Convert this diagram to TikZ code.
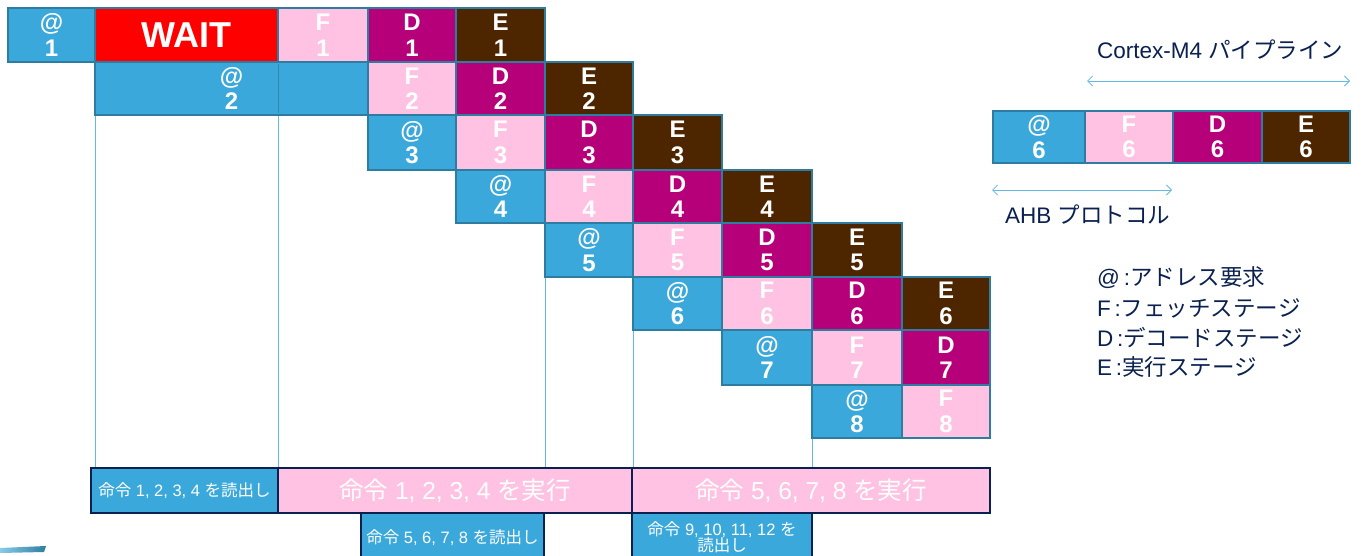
\documentclass[tikz,border=0pt]{standalone}
\usepackage{fontspec}
\setmainfont{Liberation Sans}
\newfontfamily\cjk{Noto Sans CJK JP}
\usetikzlibrary{arrows.meta}
\definecolor{cA}{RGB}{58,168,218}
\definecolor{cF}{RGB}{255,194,226}
\definecolor{cD}{RGB}{181,0,122}
\definecolor{cE}{RGB}{77,38,0}
\definecolor{cW}{RGB}{255,0,0}
\definecolor{cB}{RGB}{46,125,160}
\definecolor{navy}{RGB}{10,32,80}
\definecolor{lineblue}{RGB}{100,185,228}
\newcommand\pcell[7]{\node[#6, minimum width={#4-#2}, minimum height={#5-#3}] (#1) at ({(#2+#4)/2},{(#3+#5)/2}) {#7};}
\begin{document}
\begin{tikzpicture}[x=1pt,y=-1pt,
  pcellbase/.style={draw=cB, line width=2.8pt, text=white, font=\bfseries\fontsize{24}{25.5}\selectfont, align=center, inner sep=0pt},
  acell/.style={pcellbase, fill=cA},
  fcell/.style={pcellbase, fill=cF},
  dcell/.style={pcellbase, fill=cD},
  ecell/.style={pcellbase, fill=cE},
  wcell/.style={pcellbase, fill=cW, font=\bfseries\fontsize{36}{38}\selectfont},
  vline/.style={draw=lineblue, line width=0.8pt},
  bbox/.style={draw=navy, line width=2.8pt, text=white, inner sep=0pt, align=center},
  smalltxt/.style={font=\fontsize{16.5}{19}\selectfont},
  bigtxt/.style={font=\fontsize{24.5}{28}\selectfont},
  legend/.style={text=navy, font=\fontsize{22.5}{26}\selectfont, inner sep=0pt},
  dimarrow/.style={draw=lineblue, line width=0.8pt, {Straight Barb[length=5pt,width=10pt]}-{Straight Barb[length=5pt,width=10pt]}}
]
\useasboundingbox (0,0) rectangle (1362,555);
\clip (0,0) rectangle (1362,555);
\fill[white] (0,0) rectangle (1362,555);

% vertical guide lines
\draw[vline] (95,62) -- (95,468);
\draw[vline] (278,62) -- (278,468);
\draw[vline] (545,277) -- (545,468);
\draw[vline] (633,330) -- (633,468);
\draw[vline] (812,223) -- (812,468);

% row 1
\pcell{a1}{8}{8}{95}{62}{acell}{@\\1}
\pcell{w1}{95}{8}{278}{62}{wcell}{WAIT}
\pcell{f1}{278}{8}{368}{62}{fcell}{F\\1}
\pcell{d1}{368}{8}{456}{62}{dcell}{D\\1}
\pcell{e1}{456}{8}{545}{62}{ecell}{E\\1}
% row 2
\pcell{a2}{95}{62}{368}{115}{acell}{@\\2}
\pcell{f2}{368}{62}{456}{115}{fcell}{F\\2}
\pcell{d2}{456}{62}{545}{115}{dcell}{D\\2}
\pcell{e2}{545}{62}{633}{115}{ecell}{E\\2}
\draw[draw=cB!80!cA, line width=0.8pt] (278,64) -- (278,113);
% row 3
\pcell{a3}{368}{115}{456}{170}{acell}{@\\3}
\pcell{f3}{456}{115}{545}{170}{fcell}{F\\3}
\pcell{d3}{545}{115}{633}{170}{dcell}{D\\3}
\pcell{e3}{633}{115}{722}{170}{ecell}{E\\3}
% row 4
\pcell{a4}{456}{170}{545}{223}{acell}{@\\4}
\pcell{f4}{545}{170}{633}{223}{fcell}{F\\4}
\pcell{d4}{633}{170}{722}{223}{dcell}{D\\4}
\pcell{e4}{722}{170}{812}{223}{ecell}{E\\4}
% row 5
\pcell{a5}{545}{223}{633}{277}{acell}{@\\5}
\pcell{f5}{633}{223}{722}{277}{fcell}{F\\5}
\pcell{d5}{722}{223}{812}{277}{dcell}{D\\5}
\pcell{e5}{812}{223}{902}{277}{ecell}{E\\5}
% row 6
\pcell{a6}{633}{277}{722}{330}{acell}{@\\6}
\pcell{f6}{722}{277}{812}{330}{fcell}{F\\6}
\pcell{d6}{812}{277}{902}{330}{dcell}{D\\6}
\pcell{e6}{902}{277}{990}{330}{ecell}{E\\6}
% row 7
\pcell{a7}{722}{330}{812}{385}{acell}{@\\7}
\pcell{f7}{812}{330}{902}{385}{fcell}{F\\7}
\pcell{d7}{902}{330}{990}{385}{dcell}{D\\7}
% row 8
\pcell{a8}{812}{385}{902}{438}{acell}{@\\8}
\pcell{f8}{902}{385}{990}{438}{fcell}{F\\8}

% right pipeline
\pcell{ra}{993}{111}{1085}{163}{acell}{@\\6}
\pcell{rf}{1085}{111}{1173}{163}{fcell}{F\\6}
\pcell{rd}{1173}{111}{1262}{163}{dcell}{D\\6}
\pcell{re}{1262}{111}{1350}{163}{ecell}{E\\6}

\coordinate (cm4l) at (1087,81);
\coordinate (cm4r) at (1350,81);
\coordinate (ahbl) at (992,190);
\coordinate (ahbr) at (1172,190);
\draw[dimarrow] (cm4l) -- (cm4r);
\draw[dimarrow] (ahbl) -- (ahbr);
\node[legend, anchor=west] (cm4) at (1097,50) {Cortex-M4 {\cjk パイプライン}};
\node[legend, anchor=west] (ahb) at (1005,215) {AHB {\cjk プロトコル}};

% legend
\node[legend, anchor=west] (lg1) at (1097,278) {@\,:{\cjk アドレス要求}};
\node[legend, anchor=west] (lg2) at (1097,308) {F\,:{\cjk フェッチステージ}};
\node[legend, anchor=west] (lg3) at (1097,338) {D\,:{\cjk デコードステージ}};
\node[legend, anchor=west] (lg4) at (1097,367) {E\,:{\cjk 実行ステージ}};

% bottom boxes
\pcell{b1}{91}{468}{278}{513}{bbox, fill=cA, smalltxt}{{\cjk 命令} 1, 2, 3, 4 {\cjk を読出し}}
\pcell{b2}{278}{468}{632}{513}{bbox, fill=cF, bigtxt}{{\cjk 命令} 1, 2, 3, 4 {\cjk を実行}}
\pcell{b3}{632}{468}{990}{513}{bbox, fill=cF, bigtxt}{{\cjk 命令} 5, 6, 7, 8 {\cjk を実行}}
\pcell{b4}{361}{513}{544}{562}{bbox, fill=cA, smalltxt}{{\cjk 命令} 5, 6, 7, 8 {\cjk を読出し}}
\pcell{b5}{632}{513}{812}{562}{bbox, fill=cA, smalltxt}{{\cjk 命令} 9, 10, 11, 12 {\cjk を}\\[-3pt]{\cjk 読出し}}

% corner fragment
\shade[left color=cA!60, right color=cB] (0,548) -- (46,546) -- (44,552) -- (0,553) -- cycle;
\end{tikzpicture}
\end{document}
